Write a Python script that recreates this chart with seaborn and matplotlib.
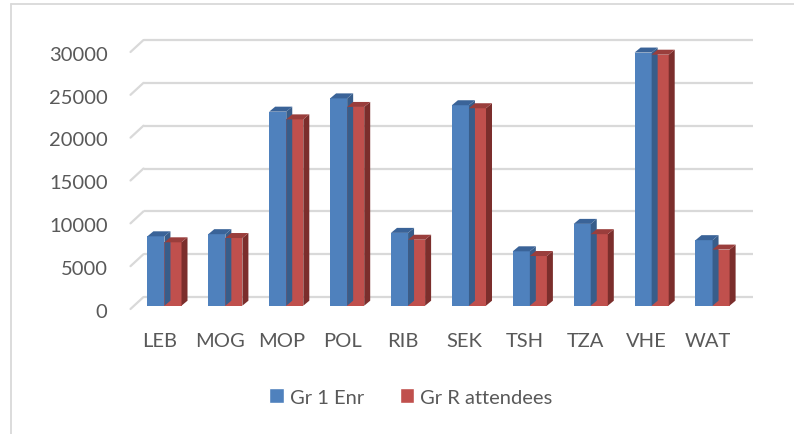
import numpy as np
import pandas as pd
import matplotlib
matplotlib.use("Agg")
import matplotlib.pyplot as plt
import matplotlib.transforms as mtransforms
from matplotlib.patches import Polygon, Patch
from matplotlib.lines import Line2D
import seaborn as sns

# data
sites = ["LEB", "MOG", "MOP", "POL", "RIB", "SEK", "TSH", "TZA", "VHE", "WAT"]
gr1_enr = [8100, 8350, 22650, 24200, 8500, 23400, 6350, 9550, 29550, 7650]
grr_att = [7400, 7900, 21750, 23200, 7700, 23050, 5800, 8350, 29300, 6550]
series = ["Gr 1 Enr", "Gr R attendees"]
yticks = [0, 5000, 10000, 15000, 20000, 25000, 30000]

df = pd.DataFrame({"site": sites * 2,
                   "value": gr1_enr + grr_att,
                   "series": [series[0]] * len(sites) + [series[1]] * len(sites)})

blue, red = "#4f81bd", "#c0504d"
blue_top, blue_side = "#3a6398", "#385d8a"
red_top, red_side = "#9a3e3c", "#7b2e2c"
grid_col = "#d9d9d9"
txt_col = "#595959"

sns.set_style("white")
plt.rcParams["font.family"] = ["Lato", "DejaVu Sans"]

W, H = 794, 435
fig = plt.figure(figsize=(W / 100, H / 100), dpi=100)
ax = fig.add_axes([134 / W, 128.3 / H, (743 - 134) / W, 257 / H])

sns.barplot(data=df, x="site", y="value", hue="series", palette=[blue, red],
            width=0.56, saturation=1, legend=False, ax=ax,
            linewidth=0, edgecolor="none")
ax.set_xlim(-0.5, 9.5)
ax.set_ylim(0, 30000)
ax.set_xlabel("")
ax.set_ylabel("")
for s in ax.spines.values():
    s.set_visible(False)
ax.patch.set_alpha(0)

# back-wall gridlines, offset in pixels
back = mtransforms.offset_copy(ax.transData, fig, x=9.5, y=8.7, units="dots")
ident = mtransforms.IdentityTransform()
for v in yticks:
    ax.plot([-0.5, 9.5], [v, v], transform=back, color=grid_col, lw=1.6,
            zorder=0, clip_on=False, solid_capstyle="butt")
    px, py = ax.transData.transform((-0.5, v))
    fig.add_artist(Line2D([px - 3.5, px + 9.5], [py - 3.3, py + 8.7],
                          transform=ident, color=grid_col, lw=1.6, zorder=0))

# 3D faces for each bar
dx, dy = 6, 5
for k, cont in enumerate(ax.containers):
    top_c, side_c = (blue_top, blue_side) if k == 0 else (red_top, red_side)
    for p in cont.patches:
        p.set_zorder(2 + 2 * k)
        p.set_linewidth(0)
        x0, y0 = ax.transData.transform((p.get_x(), 0))
        x1, y1 = ax.transData.transform((p.get_x() + p.get_width(), p.get_height()))
        side = Polygon([(x1, y0), (x1 + dx, y0 + dy), (x1 + dx, y1 + dy), (x1, y1)],
                       closed=True, facecolor=side_c, edgecolor="none",
                       transform=ident, zorder=2.5 + 2 * k)
        top = Polygon([(x0, y1), (x0 + dx, y1 + dy), (x1 + dx, y1 + dy), (x1, y1)],
                      closed=True, facecolor=top_c, edgecolor="none",
                      transform=ident, zorder=2.5 + 2 * k)
        fig.add_artist(side)
        fig.add_artist(top)

ax.set_yticks(yticks)
ax.set_yticklabels([str(v) for v in yticks])
ax.tick_params(axis="both", length=0, labelsize=14.5, labelcolor=txt_col)
ax.tick_params(axis="y", pad=19)
ax.tick_params(axis="x", pad=19)
for lab in ax.get_yticklabels():
    lab.set_transform(lab.get_transform() + mtransforms.Affine2D().translate(0, -4))
for lab in ax.get_xticklabels():
    lab.set_transform(lab.get_transform() + mtransforms.Affine2D().translate(-5, 0))

handles = [Patch(facecolor=blue, label=series[0]), Patch(facecolor=red, label=series[1])]
leg = fig.legend(handles=handles, loc="center", bbox_to_anchor=(411 / W, 1 - 398 / H),
                 ncol=2, frameon=False, fontsize=14.5, handlelength=0.7,
                 handleheight=0.7, handletextpad=0.3, columnspacing=1.8)
for t in leg.get_texts():
    t.set_color(txt_col)

# chart frame (partly cropped)
fig.add_artist(Line2D([11 / W, 11 / W], [0, 1 - 5 / H], transform=fig.transFigure,
                      color=grid_col, lw=1.3))
fig.add_artist(Line2D([11 / W, 1], [1 - 5 / H, 1 - 5 / H], transform=fig.transFigure,
                      color=grid_col, lw=1.3))

fig.savefig("out.png", dpi=100)
